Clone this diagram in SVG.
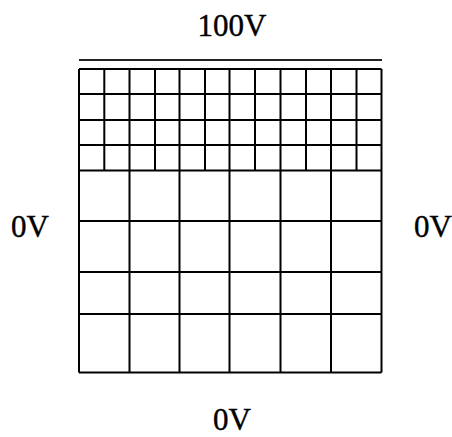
<svg xmlns="http://www.w3.org/2000/svg" width="452" height="437" viewBox="0 0 452 437">
<style>
.lbl{font-family:"Liberation Serif","Times New Roman",serif;font-size:31px;fill:#000;stroke:#000;stroke-width:0.4}
.g{stroke:#000;stroke-width:2;fill:none}
</style>
<rect width="452" height="437" fill="#fff"/>
<g id="top-electrode">
<line x1="79" y1="60" x2="382" y2="60" stroke="#222" stroke-width="2"/>
</g>
<g id="mesh">
<path class="g" d="M79,69H381.5M79,94H381.5M79,120H381.5M79,145H381.5M79,170.5H381.5M79,221H381.5M79,272H381.5M79,314H381.5M79,372.5H381.5"/>
<path class="g" d="M79,69V372.5M381.5,69V372.5M129.5,69V372.5M179.5,69V372.5M229.5,69V372.5M280.5,69V372.5M331,69V372.5"/>
<path class="g" d="M104.3,69V170.5M155,69V170.5M205,69V170.5M255,69V170.5M306,69V170.5M356.5,69V170.5"/>
</g>
<g id="labels">
<text class="lbl" x="232" y="36" text-anchor="middle">100V</text>
<text class="lbl" x="11" y="237">0V</text>
<text class="lbl" x="414" y="237">0V</text>
<text class="lbl" x="232" y="430" text-anchor="middle">0V</text>
</g>
</svg>
